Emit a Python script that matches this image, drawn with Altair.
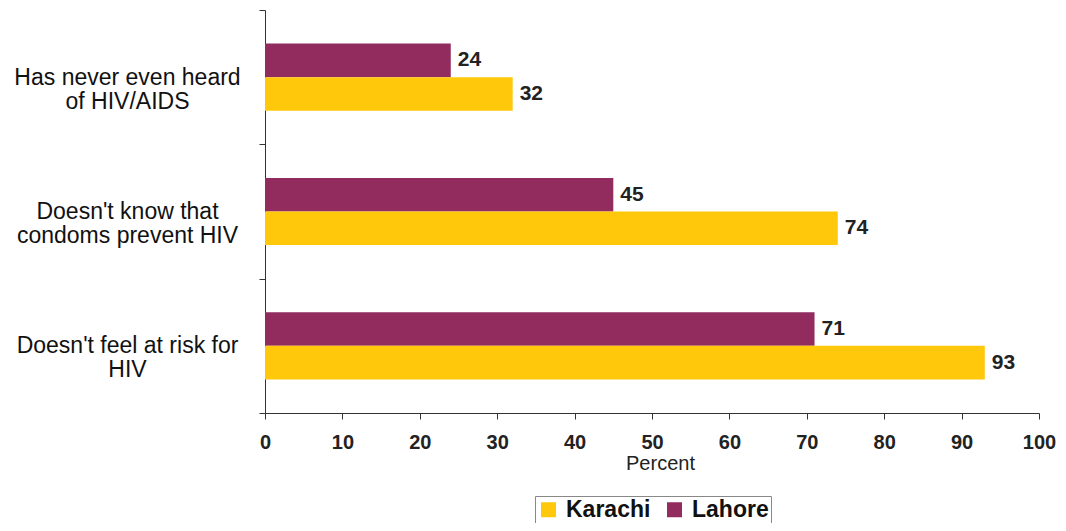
import altair as alt
import pandas as pd

categories = [
    "Has never even heard|of HIV/AIDS",
    "Doesn't know that|condoms prevent HIV",
    "Doesn't feel at risk for|HIV",
]
karachi = [32, 74, 93]
lahore = [24, 45, 71]
series = ["Karachi", "Lahore"]
colors = ["#FFC80A", "#922B5E"]

rows = []
for c, k, l in zip(categories, karachi, lahore):
    rows.append({"cat": c, "city": "Lahore", "value": l})
    rows.append({"cat": c, "city": "Karachi", "value": k})
df = pd.DataFrame(rows)

FONT = "Liberation Sans"

base = alt.Chart(df).encode(
    y=alt.Y(
        "cat:N",
        sort=categories,
        scale=alt.Scale(paddingInner=0, paddingOuter=0),
        axis=alt.Axis(
            title=None,
            labelExpr="split(datum.label, '|')",
            labelAlign="center",
            labelBaseline="middle",
            labelPadding=132,
            labelFontSize=23,
            labelColor="#111",
            labelFont=FONT,
            labelLimit=400,
            labelLineHeight=24,
            tickBand="extent",
            tickSize=6,
            tickColor="#333",
            domainColor="#333",
            grid=False,
        ),
    ),
    yOffset=alt.YOffset(
        "city:N",
        sort=["Lahore", "Karachi"],
        scale=alt.Scale(paddingInner=0, paddingOuter=1),
    ),
)

bars = base.mark_bar().encode(
    x=alt.X(
        "value:Q",
        scale=alt.Scale(domain=[0, 100], nice=False),
        axis=alt.Axis(
            title="Percent",
            values=list(range(0, 101, 10)),
            labelFlush=False,
            labelFontSize=20,
            labelFontWeight="bold",
            labelFont=FONT,
            labelColor="#222",
            labelPadding=13,
            tickSize=6,
            tickColor="#333",
            domainColor="#333",
            titleFontSize=20,
            titleFontWeight="normal",
            titleFont=FONT,
            titleColor="#222",
            titlePadding=1,
            titleX=395,
            grid=False,
        ),
    ),
    color=alt.Color(
        "city:N",
        scale=alt.Scale(domain=series, range=colors),
        legend=alt.Legend(
            title=None,
            orient="none",
            legendX=270,
            legendY=486,
            direction="horizontal",
            symbolType="square",
            symbolSize=225,
            symbolStrokeWidth=0,
            labelFontSize=23,
            labelFontWeight="bold",
            labelFont=FONT,
            labelColor="#111",
            strokeColor="#888",
            padding=2,
            columnPadding=12,
            labelOffset=6,
        ),
    ),
)

labels = base.mark_text(
    align="left", baseline="middle", dx=7, fontSize=21, fontWeight="bold", font=FONT, color="#222"
).encode(
    x="value:Q",
    text="value:Q",
)

chart = (
    (bars + labels)
    .properties(
        width=774,
        height=403,
        padding={"left": 257, "top": 2, "right": 17, "bottom": 110},
        autosize=alt.AutoSizeParams(type="none"),
    )
    .configure(background="white")
    .configure_view(stroke=None)
)

chart.save("out.html", embed_options={"renderer": "svg", "actions": False})
